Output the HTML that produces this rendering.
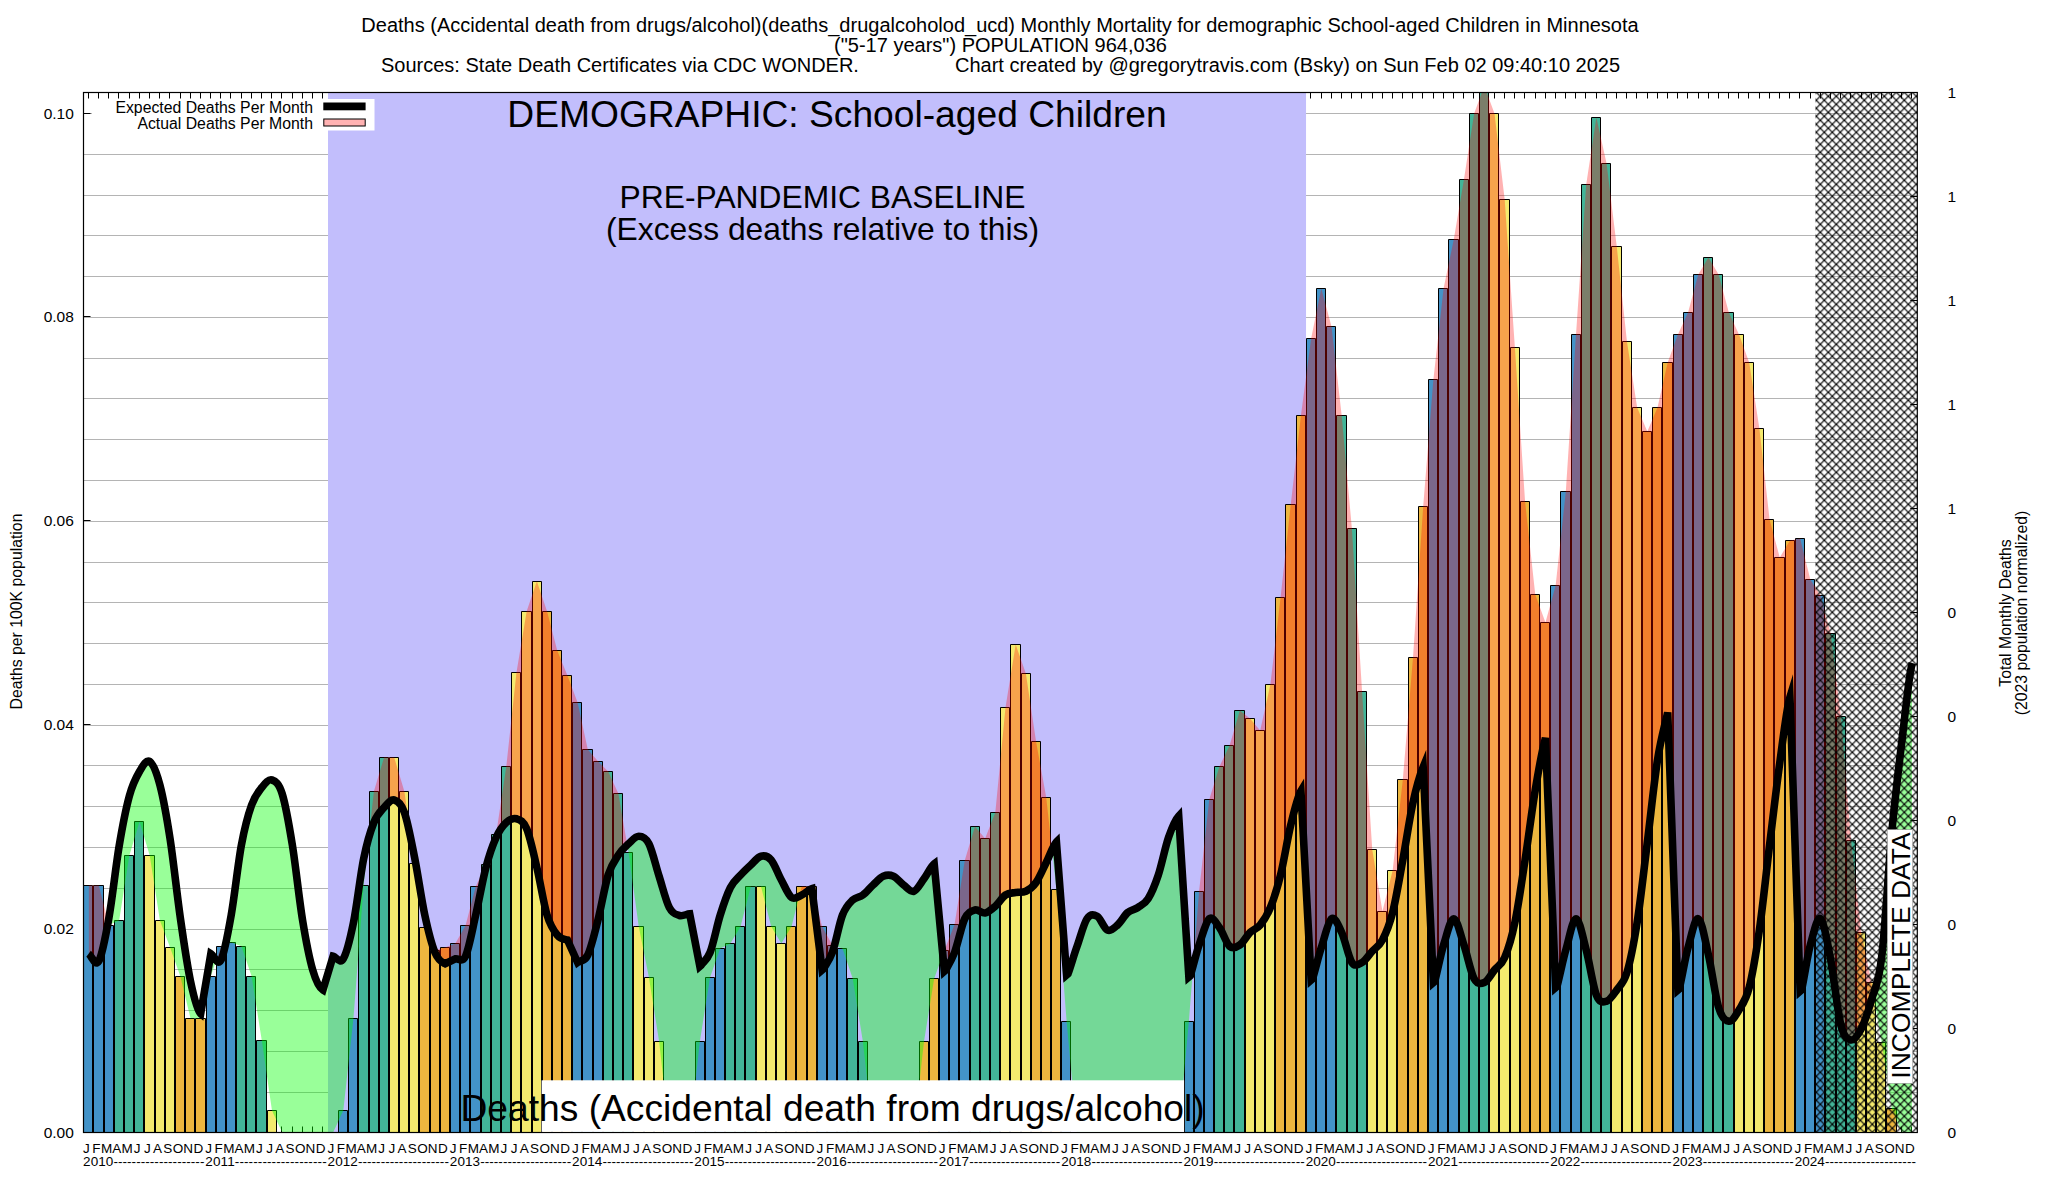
<!DOCTYPE html>
<html><head><meta charset="utf-8"><title>Monthly Mortality</title>
<style>html,body{margin:0;padding:0;background:#fff}svg{display:block}text{font-family:"Liberation Sans",Arial,Helvetica,sans-serif;fill:#000}</style></head><body>
<svg width="2048" height="1200" viewBox="0 0 2048 1200">
<defs>
<clipPath id="plot"><rect x="83.5" y="92.5" width="1833.8" height="1040"/></clipPath>
<clipPath id="aboveE"><path d="M88.59,953.75 C91.99,956.25 95.39,967.29 98.78,961.25 C102.18,955.21 105.57,936.71 108.97,917.5 C112.37,898.29 115.76,866.25 119.16,846 C122.55,825.75 125.95,808.42 129.34,796 C132.74,783.58 136.14,777.25 139.53,771.5 C142.93,765.75 146.32,759.25 149.72,761.5 C153.12,763.75 156.51,772.08 159.91,785 C163.3,797.92 166.7,816.92 170.1,839 C173.49,861.08 176.89,893.83 180.28,917.5 C183.68,941.17 187.08,964.96 190.47,981 C193.87,997.04 197.26,1011.08 200.66,1013.75 L210.85,953.75 C214.24,955.83 217.64,966.46 221.03,960 C224.43,953.54 227.83,934.17 231.22,915 C234.62,895.83 238.01,863.33 241.41,845 C244.81,826.67 248.2,814.58 251.6,805 C254.99,795.42 258.39,791.67 261.79,787.5 C265.18,783.33 268.58,778.96 271.97,780 C275.37,781.04 278.77,782.92 282.16,793.75 C285.56,804.58 288.95,823.96 292.35,845 C295.75,866.04 299.14,899.17 302.54,920 C305.93,940.83 309.33,958.33 312.73,970 C316.12,981.67 319.52,988 322.91,990 L333.1,956.25 C336.5,957.08 339.89,964.38 343.29,958.75 C346.68,953.12 350.08,939.17 353.48,922.5 C356.87,905.83 360.27,875.42 363.66,858.75 C367.06,842.08 370.46,831.04 373.85,822.5 C377.25,813.96 380.64,811.25 384.04,807.5 C387.44,803.75 390.83,799.17 394.23,800 C397.62,800.83 401.02,802.92 404.41,812.5 C407.81,822.08 411.21,840.42 414.6,857.5 C418,874.58 421.39,899.17 424.79,915 C428.19,930.83 431.58,944.38 434.98,952.5 C438.37,960.62 441.77,961.88 445.17,963.75 L455.35,958.75 C458.75,957.92 462.15,963.54 465.54,956.25 C468.94,948.96 472.33,929.79 475.73,915 C479.13,900.21 482.52,880.42 485.92,867.5 C489.31,854.58 492.71,845 496.1,837.5 C499.5,830 502.9,825.62 506.29,822.5 C509.69,819.38 513.08,817.71 516.48,818.75 C519.88,819.79 523.27,820.62 526.67,828.75 C530.06,836.88 533.46,853.12 536.86,867.5 C540.25,881.88 543.65,903.75 547.04,915 C550.44,926.25 553.84,930.83 557.23,935 C560.63,939.17 564.02,939.17 567.42,940 L577.61,962.5 C581,960 584.4,962.08 587.79,955 C591.19,947.92 594.59,933.33 597.98,920 C601.38,906.67 604.77,885.83 608.17,875 C611.57,864.17 614.96,860.21 618.36,855 C621.75,849.79 625.15,846.88 628.55,843.75 C631.94,840.62 635.34,836.25 638.73,836.25 C642.13,836.25 645.53,837.08 648.92,843.75 C652.32,850.42 655.71,865.62 659.11,876.25 C662.51,886.88 665.9,900.96 669.3,907.5 C672.69,914.04 676.09,914.46 679.48,915.5 C682.88,916.54 686.28,914.04 689.67,913.75 L699.86,966.25 L701.26,965.05 C704.19,961.1 707.12,959.87 710.05,952.5 C713.44,943.96 716.84,925.83 720.24,915 C723.63,904.17 727.03,894.17 730.42,887.5 C733.82,880.83 737.22,878.75 740.61,875 C744.01,871.25 747.4,868.12 750.8,865 C754.2,861.88 757.59,857.08 760.99,856.25 C764.38,855.42 767.78,856.04 771.17,860 C774.57,863.96 777.97,873.75 781.36,880 C784.76,886.25 788.15,895 791.55,897.5 C794.95,900 798.34,896.46 801.74,895 C805.13,893.54 808.53,889.79 811.93,888.75 L822.11,970 L823.51,968.8 C826.44,963.77 829.37,960.41 832.3,952.5 C835.7,943.33 839.09,923.75 842.49,915 C845.89,906.25 849.28,903.33 852.68,900 C856.07,896.67 859.47,897.5 862.86,895 C866.26,892.5 869.66,888.12 873.05,885 C876.45,881.88 879.84,877.71 883.24,876.25 C886.64,874.79 890.03,874.79 893.43,876.25 C896.82,877.71 900.22,882.5 903.62,885 C907.01,887.5 910.41,892.29 913.8,891.25 C917.2,890.21 920.6,883.33 923.99,878.75 C927.39,874.17 930.78,866.25 934.18,863.75 L944.37,971.25 L945.77,970.05 C948.7,964.66 951.63,960.05 954.55,952.5 C957.95,943.75 961.35,925.83 964.74,918.75 C968.14,911.67 971.53,910.96 974.93,910 C978.33,909.04 981.72,913.62 985.12,913 C988.51,912.38 991.91,909.25 995.31,906.25 C998.7,903.25 1002.1,897.29 1005.49,895 C1008.89,892.71 1012.29,893.12 1015.68,892.5 C1019.08,891.88 1022.47,892.92 1025.87,891.25 C1029.27,889.58 1032.66,887.29 1036.06,882.5 C1039.45,877.71 1042.85,869.25 1046.24,862.5 C1049.64,855.75 1053.04,845.42 1056.43,842 L1066.62,975 L1068.02,973.8 C1070.95,965.75 1073.88,955.09 1076.81,947 C1080.2,937.63 1083.6,923.88 1087,918.75 C1090.39,913.62 1093.79,914.38 1097.18,916.25 C1100.58,918.12 1103.98,928.54 1107.37,930 C1110.77,931.46 1114.16,927.92 1117.56,925 C1120.96,922.08 1124.35,915.42 1127.75,912.5 C1131.14,909.58 1134.54,909.79 1137.93,907.5 C1141.33,905.21 1144.73,904.17 1148.12,898.75 C1151.52,893.33 1154.91,885.21 1158.31,875 C1161.71,864.79 1165.1,847.33 1168.5,837.5 C1171.89,827.67 1175.29,819.58 1178.69,816 L1188.87,977 L1190.27,975.8 C1193.2,966.6 1196.13,953.37 1199.06,945 C1202.46,935.29 1205.85,921.67 1209.25,918.75 C1212.65,915.83 1216.04,922.92 1219.44,927.5 C1222.83,932.08 1226.23,943.33 1229.62,946.25 C1233.02,949.17 1236.42,947.29 1239.81,945 C1243.21,942.71 1246.6,935.83 1250,932.5 C1253.4,929.17 1256.79,929.17 1260.19,925 C1263.58,920.83 1266.98,915.83 1270.38,907.5 C1273.77,899.17 1277.17,888.75 1280.56,875 C1283.96,861.25 1287.36,839 1290.75,825 C1294.15,811 1297.54,796.67 1300.94,791 L1311.13,980 L1312.53,978.8 C1315.46,969.46 1318.39,956.31 1321.31,947.5 C1324.71,937.29 1328.11,921.25 1331.5,918.75 C1334.9,916.25 1338.29,925.21 1341.69,932.5 C1345.09,939.79 1348.48,957.5 1351.88,962.5 C1355.27,967.5 1358.67,964.38 1362.07,962.5 C1365.46,960.62 1368.86,955 1372.25,951.25 C1375.65,947.5 1379.05,946.46 1382.44,940 C1385.84,933.54 1389.23,925.83 1392.63,912.5 C1396.03,899.17 1399.42,878.33 1402.82,860 C1406.21,841.67 1409.61,818 1413,802.5 C1416.4,787 1419.8,775.27 1423.19,767 L1433.38,982.5 L1434.78,981.3 C1437.71,970.52 1440.64,954.16 1443.57,945 C1446.96,934.37 1450.36,918.75 1453.76,918.75 C1457.15,918.75 1460.55,935 1463.94,945 C1467.34,955 1470.74,972.5 1474.13,978.75 C1477.53,985 1480.92,983.96 1484.32,982.5 C1487.72,981.04 1491.11,974.17 1494.51,970 C1497.9,965.83 1501.3,965.42 1504.69,957.5 C1508.09,949.58 1511.49,938.75 1514.88,922.5 C1518.28,906.25 1521.67,882.08 1525.07,860 C1528.47,837.92 1531.86,810.33 1535.26,790 C1538.65,769.67 1542.05,750.6 1545.45,738 L1555.63,987.5 L1557.03,986.3 C1559.96,975.52 1562.89,959.88 1565.82,950 C1569.22,938.54 1572.61,918.75 1576.01,918.75 C1579.41,918.75 1582.8,937.29 1586.2,950 C1589.59,962.71 1592.99,986.46 1596.38,995 C1599.78,1003.54 1603.18,1002.08 1606.57,1001.25 C1609.97,1000.42 1613.36,994.79 1616.76,990 C1620.16,985.21 1623.55,983.75 1626.95,972.5 C1630.34,961.25 1633.74,944.17 1637.14,922.5 C1640.53,900.83 1643.93,869.58 1647.32,842.5 C1650.72,815.42 1654.12,781.67 1657.51,760 C1660.91,738.33 1664.3,727.47 1667.7,712.5 L1677.89,990 L1679.29,988.8 C1682.22,976.58 1685.15,957.74 1688.07,947.5 C1691.47,935.62 1694.87,917.5 1698.26,918.75 C1701.66,920 1705.05,940.21 1708.45,955 C1711.85,969.79 1715.24,996.46 1718.64,1007.5 C1722.03,1018.54 1725.43,1020.83 1728.83,1021.25 C1732.22,1021.67 1735.62,1015.62 1739.01,1010 C1742.41,1004.37 1745.81,1000.83 1749.2,987.5 C1752.6,974.17 1755.99,953.75 1759.39,930 C1762.79,906.25 1766.18,872.83 1769.58,845 C1772.97,817.17 1776.37,787.67 1779.76,763 C1783.16,738.33 1786.56,707.97 1789.95,697 L1800.14,991.25 L1801.54,990.05 C1804.47,976.75 1807.4,955.42 1810.33,945 C1813.72,932.92 1817.12,916.25 1820.52,918.75 C1823.91,921.25 1827.31,942.29 1830.7,960 C1834.1,977.71 1837.5,1011.67 1840.89,1025 C1844.29,1038.33 1847.68,1039.38 1851.08,1040 C1854.48,1040.62 1857.87,1035.42 1861.27,1028.75 C1864.66,1022.08 1868.06,1011.88 1871.45,1000 C1874.85,988.13 1878.25,985.5 1881.64,957.5 C1885.04,929.5 1888.43,868.25 1891.83,832 C1895.23,795.75 1898.62,768.17 1902.02,740 C1905.41,711.83 1908.81,675.83 1912.21,663 L1912.21,0 L88.59,0 Z"/></clipPath>
<clipPath id="aboveA"><path d="M88.59,885.5 L98.78,885.5 L108.97,925 L119.16,920.5 L129.34,855.5 L139.53,821.75 L149.72,855.5 L159.91,920.5 L170.1,947.5 L180.28,976.25 L190.47,1018.25 L200.66,1018.25 L210.85,976.25 L221.03,946.25 L231.22,942.5 L241.41,946.25 L251.6,976.25 L261.79,1040.5 L271.97,1110.5 L282.16,1132.5 L292.35,1132.5 L302.54,1132.5 L312.73,1132.5 L322.91,1132.5 L333.1,1132.5 L343.29,1110.5 L353.48,1018.25 L363.66,885.5 L373.85,791.5 L384.04,757.5 L394.23,757.5 L404.41,791.5 L414.6,863.5 L424.79,927.5 L434.98,950 L445.17,947.5 L455.35,943.5 L465.54,925.5 L475.73,886.5 L485.92,864.5 L496.1,834.5 L506.29,766.5 L516.48,672.5 L526.67,611.25 L536.86,581.25 L547.04,611.25 L557.23,650.5 L567.42,675.5 L577.61,702.5 L587.79,749.5 L597.98,761.25 L608.17,771.5 L618.36,793.5 L628.55,852.5 L638.73,926.5 L648.92,977.5 L659.11,1041.5 L669.3,1132.5 L679.48,1132.5 L689.67,1132.5 L699.86,1041.5 L710.05,977.5 L720.24,948.5 L730.42,943.5 L740.61,926.5 L750.8,886.5 L760.99,886.5 L771.17,926.5 L781.36,943.5 L791.55,926.5 L801.74,886.5 L811.93,886.5 L822.11,926.5 L832.3,945 L842.49,948.5 L852.68,978.5 L862.86,1041.5 L873.05,1132.5 L883.24,1132.5 L893.43,1132.5 L903.62,1132.5 L913.8,1132.5 L923.99,1041.5 L934.18,978.5 L944.37,950.5 L954.55,924.5 L964.74,860.5 L974.93,826.5 L985.12,838.5 L995.31,812.5 L1005.49,707.5 L1015.68,644.5 L1025.87,673.5 L1036.06,741.5 L1046.24,797.5 L1056.43,889.5 L1066.62,1021.5 L1076.81,1132.5 L1087,1132.5 L1097.18,1132.5 L1107.37,1132.5 L1117.56,1132.5 L1127.75,1132.5 L1137.93,1132.5 L1148.12,1132.5 L1158.31,1132.5 L1168.5,1132.5 L1178.69,1132.5 L1188.87,1021.5 L1199.06,891.5 L1209.25,799.5 L1219.44,766.5 L1229.62,745.5 L1239.81,710.5 L1250,718.5 L1260.19,730.5 L1270.38,684.5 L1280.56,597.5 L1290.75,504.5 L1300.94,415.5 L1311.13,338.5 L1321.31,288.5 L1331.5,326.5 L1341.69,415.5 L1351.88,528.5 L1362.07,691.5 L1372.25,849.5 L1382.44,911.25 L1392.63,870.5 L1402.82,779.5 L1413,657.5 L1423.19,506.5 L1433.38,379.5 L1443.57,288.5 L1453.76,239.5 L1463.94,179.5 L1474.13,113.5 L1484.32,86 L1494.51,113.5 L1504.69,199.5 L1514.88,347.5 L1525.07,501.5 L1535.26,594.5 L1545.45,622.5 L1555.63,585.5 L1565.82,491.5 L1576.01,334.5 L1586.2,184.5 L1596.38,117.5 L1606.57,163.5 L1616.76,246.5 L1626.95,341.5 L1637.14,407.5 L1647.32,431.5 L1657.51,407.5 L1667.7,362.5 L1677.89,334.5 L1688.07,312.5 L1698.26,274.5 L1708.45,257.5 L1718.64,274.5 L1728.83,312.5 L1739.01,334.5 L1749.2,362.5 L1759.39,428.5 L1769.58,519.5 L1779.76,557.5 L1789.95,540.5 L1800.14,538.5 L1810.33,579.5 L1820.52,595.5 L1830.7,633.5 L1840.89,716.5 L1851.08,840.5 L1861.27,932.5 L1871.45,982.5 L1881.64,1042.5 L1891.83,1108.75 L1902.02,1132.5 L1912.21,1132.5 L1912.21,0 L88.59,0 Z"/></clipPath>
<pattern id="hatch" width="8" height="8" patternUnits="userSpaceOnUse" patternTransform="translate(4.3,0.3)"><path d="M-1,-1 L9,9 M9,-1 L-1,9" stroke="#000" stroke-width="1.2" fill="none"/></pattern>
</defs>
<rect width="2048" height="1200" fill="#fff"/>
<path d="M83.5,1092.5 H1917.3 M83.5,1051.5 H1917.3 M83.5,1010.5 H1917.3 M83.5,969.5 H1917.3 M83.5,929.5 H1917.3 M83.5,888.5 H1917.3 M83.5,847.5 H1917.3 M83.5,806.5 H1917.3 M83.5,765.5 H1917.3 M83.5,725.5 H1917.3 M83.5,684.5 H1917.3 M83.5,643.5 H1917.3 M83.5,602.5 H1917.3 M83.5,562.5 H1917.3 M83.5,521.5 H1917.3 M83.5,480.5 H1917.3 M83.5,439.5 H1917.3 M83.5,398.5 H1917.3 M83.5,358.5 H1917.3 M83.5,317.5 H1917.3 M83.5,276.5 H1917.3 M83.5,235.5 H1917.3 M83.5,195.5 H1917.3 M83.5,154.5 H1917.3 M83.5,113.5 H1917.3" stroke="#b4b4b4" stroke-width="1" fill="none"/>
<path d="M88.5,92.5 v6 M88.5,1132.5 v-6 M98.5,92.5 v6 M98.5,1132.5 v-6 M108.5,92.5 v6 M108.5,1132.5 v-6 M118.5,92.5 v6 M118.5,1132.5 v-6 M129.5,92.5 v6 M129.5,1132.5 v-6 M139.5,92.5 v6 M139.5,1132.5 v-6 M149.5,92.5 v6 M149.5,1132.5 v-6 M159.5,92.5 v6 M159.5,1132.5 v-6 M169.5,92.5 v6 M169.5,1132.5 v-6 M180.5,92.5 v6 M180.5,1132.5 v-6 M190.5,92.5 v6 M190.5,1132.5 v-6 M200.5,92.5 v6 M200.5,1132.5 v-6 M210.5,92.5 v6 M210.5,1132.5 v-6 M220.5,92.5 v6 M220.5,1132.5 v-6 M230.5,92.5 v6 M230.5,1132.5 v-6 M241.5,92.5 v6 M241.5,1132.5 v-6 M251.5,92.5 v6 M251.5,1132.5 v-6 M261.5,92.5 v6 M261.5,1132.5 v-6 M271.5,92.5 v6 M271.5,1132.5 v-6 M281.5,92.5 v6 M281.5,1132.5 v-6 M292.5,92.5 v6 M292.5,1132.5 v-6 M302.5,92.5 v6 M302.5,1132.5 v-6 M312.5,92.5 v6 M312.5,1132.5 v-6 M322.5,92.5 v6 M322.5,1132.5 v-6 M332.5,92.5 v6 M332.5,1132.5 v-6 M343.5,92.5 v6 M343.5,1132.5 v-6 M353.5,92.5 v6 M353.5,1132.5 v-6 M363.5,92.5 v6 M363.5,1132.5 v-6 M373.5,92.5 v6 M373.5,1132.5 v-6 M383.5,92.5 v6 M383.5,1132.5 v-6 M393.5,92.5 v6 M393.5,1132.5 v-6 M404.5,92.5 v6 M404.5,1132.5 v-6 M414.5,92.5 v6 M414.5,1132.5 v-6 M424.5,92.5 v6 M424.5,1132.5 v-6 M434.5,92.5 v6 M434.5,1132.5 v-6 M444.5,92.5 v6 M444.5,1132.5 v-6 M455.5,92.5 v6 M455.5,1132.5 v-6 M465.5,92.5 v6 M465.5,1132.5 v-6 M475.5,92.5 v6 M475.5,1132.5 v-6 M485.5,92.5 v6 M485.5,1132.5 v-6 M495.5,92.5 v6 M495.5,1132.5 v-6 M506.5,92.5 v6 M506.5,1132.5 v-6 M516.5,92.5 v6 M516.5,1132.5 v-6 M526.5,92.5 v6 M526.5,1132.5 v-6 M536.5,92.5 v6 M536.5,1132.5 v-6 M546.5,92.5 v6 M546.5,1132.5 v-6 M556.5,92.5 v6 M556.5,1132.5 v-6 M567.5,92.5 v6 M567.5,1132.5 v-6 M577.5,92.5 v6 M577.5,1132.5 v-6 M587.5,92.5 v6 M587.5,1132.5 v-6 M597.5,92.5 v6 M597.5,1132.5 v-6 M607.5,92.5 v6 M607.5,1132.5 v-6 M618.5,92.5 v6 M618.5,1132.5 v-6 M628.5,92.5 v6 M628.5,1132.5 v-6 M638.5,92.5 v6 M638.5,1132.5 v-6 M648.5,92.5 v6 M648.5,1132.5 v-6 M658.5,92.5 v6 M658.5,1132.5 v-6 M669.5,92.5 v6 M669.5,1132.5 v-6 M679.5,92.5 v6 M679.5,1132.5 v-6 M689.5,92.5 v6 M689.5,1132.5 v-6 M699.5,92.5 v6 M699.5,1132.5 v-6 M709.5,92.5 v6 M709.5,1132.5 v-6 M719.5,92.5 v6 M719.5,1132.5 v-6 M730.5,92.5 v6 M730.5,1132.5 v-6 M740.5,92.5 v6 M740.5,1132.5 v-6 M750.5,92.5 v6 M750.5,1132.5 v-6 M760.5,92.5 v6 M760.5,1132.5 v-6 M770.5,92.5 v6 M770.5,1132.5 v-6 M781.5,92.5 v6 M781.5,1132.5 v-6 M791.5,92.5 v6 M791.5,1132.5 v-6 M801.5,92.5 v6 M801.5,1132.5 v-6 M811.5,92.5 v6 M811.5,1132.5 v-6 M821.5,92.5 v6 M821.5,1132.5 v-6 M832.5,92.5 v6 M832.5,1132.5 v-6 M842.5,92.5 v6 M842.5,1132.5 v-6 M852.5,92.5 v6 M852.5,1132.5 v-6 M862.5,92.5 v6 M862.5,1132.5 v-6 M872.5,92.5 v6 M872.5,1132.5 v-6 M882.5,92.5 v6 M882.5,1132.5 v-6 M893.5,92.5 v6 M893.5,1132.5 v-6 M903.5,92.5 v6 M903.5,1132.5 v-6 M913.5,92.5 v6 M913.5,1132.5 v-6 M923.5,92.5 v6 M923.5,1132.5 v-6 M933.5,92.5 v6 M933.5,1132.5 v-6 M944.5,92.5 v6 M944.5,1132.5 v-6 M954.5,92.5 v6 M954.5,1132.5 v-6 M964.5,92.5 v6 M964.5,1132.5 v-6 M974.5,92.5 v6 M974.5,1132.5 v-6 M984.5,92.5 v6 M984.5,1132.5 v-6 M995.5,92.5 v6 M995.5,1132.5 v-6 M1005.5,92.5 v6 M1005.5,1132.5 v-6 M1015.5,92.5 v6 M1015.5,1132.5 v-6 M1025.5,92.5 v6 M1025.5,1132.5 v-6 M1035.5,92.5 v6 M1035.5,1132.5 v-6 M1045.5,92.5 v6 M1045.5,1132.5 v-6 M1056.5,92.5 v6 M1056.5,1132.5 v-6 M1066.5,92.5 v6 M1066.5,1132.5 v-6 M1076.5,92.5 v6 M1076.5,1132.5 v-6 M1086.5,92.5 v6 M1086.5,1132.5 v-6 M1096.5,92.5 v6 M1096.5,1132.5 v-6 M1107.5,92.5 v6 M1107.5,1132.5 v-6 M1117.5,92.5 v6 M1117.5,1132.5 v-6 M1127.5,92.5 v6 M1127.5,1132.5 v-6 M1137.5,92.5 v6 M1137.5,1132.5 v-6 M1147.5,92.5 v6 M1147.5,1132.5 v-6 M1158.5,92.5 v6 M1158.5,1132.5 v-6 M1168.5,92.5 v6 M1168.5,1132.5 v-6 M1178.5,92.5 v6 M1178.5,1132.5 v-6 M1188.5,92.5 v6 M1188.5,1132.5 v-6 M1198.5,92.5 v6 M1198.5,1132.5 v-6 M1208.5,92.5 v6 M1208.5,1132.5 v-6 M1219.5,92.5 v6 M1219.5,1132.5 v-6 M1229.5,92.5 v6 M1229.5,1132.5 v-6 M1239.5,92.5 v6 M1239.5,1132.5 v-6 M1249.5,92.5 v6 M1249.5,1132.5 v-6 M1259.5,92.5 v6 M1259.5,1132.5 v-6 M1270.5,92.5 v6 M1270.5,1132.5 v-6 M1280.5,92.5 v6 M1280.5,1132.5 v-6 M1290.5,92.5 v6 M1290.5,1132.5 v-6 M1300.5,92.5 v6 M1300.5,1132.5 v-6 M1310.5,92.5 v6 M1310.5,1132.5 v-6 M1321.5,92.5 v6 M1321.5,1132.5 v-6 M1331.5,92.5 v6 M1331.5,1132.5 v-6 M1341.5,92.5 v6 M1341.5,1132.5 v-6 M1351.5,92.5 v6 M1351.5,1132.5 v-6 M1361.5,92.5 v6 M1361.5,1132.5 v-6 M1372.5,92.5 v6 M1372.5,1132.5 v-6 M1382.5,92.5 v6 M1382.5,1132.5 v-6 M1392.5,92.5 v6 M1392.5,1132.5 v-6 M1402.5,92.5 v6 M1402.5,1132.5 v-6 M1412.5,92.5 v6 M1412.5,1132.5 v-6 M1422.5,92.5 v6 M1422.5,1132.5 v-6 M1433.5,92.5 v6 M1433.5,1132.5 v-6 M1443.5,92.5 v6 M1443.5,1132.5 v-6 M1453.5,92.5 v6 M1453.5,1132.5 v-6 M1463.5,92.5 v6 M1463.5,1132.5 v-6 M1473.5,92.5 v6 M1473.5,1132.5 v-6 M1484.5,92.5 v6 M1484.5,1132.5 v-6 M1494.5,92.5 v6 M1494.5,1132.5 v-6 M1504.5,92.5 v6 M1504.5,1132.5 v-6 M1514.5,92.5 v6 M1514.5,1132.5 v-6 M1524.5,92.5 v6 M1524.5,1132.5 v-6 M1535.5,92.5 v6 M1535.5,1132.5 v-6 M1545.5,92.5 v6 M1545.5,1132.5 v-6 M1555.5,92.5 v6 M1555.5,1132.5 v-6 M1565.5,92.5 v6 M1565.5,1132.5 v-6 M1575.5,92.5 v6 M1575.5,1132.5 v-6 M1585.5,92.5 v6 M1585.5,1132.5 v-6 M1596.5,92.5 v6 M1596.5,1132.5 v-6 M1606.5,92.5 v6 M1606.5,1132.5 v-6 M1616.5,92.5 v6 M1616.5,1132.5 v-6 M1626.5,92.5 v6 M1626.5,1132.5 v-6 M1636.5,92.5 v6 M1636.5,1132.5 v-6 M1647.5,92.5 v6 M1647.5,1132.5 v-6 M1657.5,92.5 v6 M1657.5,1132.5 v-6 M1667.5,92.5 v6 M1667.5,1132.5 v-6 M1677.5,92.5 v6 M1677.5,1132.5 v-6 M1687.5,92.5 v6 M1687.5,1132.5 v-6 M1698.5,92.5 v6 M1698.5,1132.5 v-6 M1708.5,92.5 v6 M1708.5,1132.5 v-6 M1718.5,92.5 v6 M1718.5,1132.5 v-6 M1728.5,92.5 v6 M1728.5,1132.5 v-6 M1738.5,92.5 v6 M1738.5,1132.5 v-6 M1748.5,92.5 v6 M1748.5,1132.5 v-6 M1759.5,92.5 v6 M1759.5,1132.5 v-6 M1769.5,92.5 v6 M1769.5,1132.5 v-6 M1779.5,92.5 v6 M1779.5,1132.5 v-6 M1789.5,92.5 v6 M1789.5,1132.5 v-6 M1799.5,92.5 v6 M1799.5,1132.5 v-6 M1810.5,92.5 v6 M1810.5,1132.5 v-6 M1820.5,92.5 v6 M1820.5,1132.5 v-6 M1830.5,92.5 v6 M1830.5,1132.5 v-6 M1840.5,92.5 v6 M1840.5,1132.5 v-6 M1850.5,92.5 v6 M1850.5,1132.5 v-6 M1861.5,92.5 v6 M1861.5,1132.5 v-6 M1871.5,92.5 v6 M1871.5,1132.5 v-6 M1881.5,92.5 v6 M1881.5,1132.5 v-6 M1891.5,92.5 v6 M1891.5,1132.5 v-6 M1901.5,92.5 v6 M1901.5,1132.5 v-6 M1911.5,92.5 v6 M1911.5,1132.5 v-6 M83.5,1132.5 h7 M83.5,928.5 h7 M83.5,724.5 h7 M83.5,520.5 h7 M83.5,316.5 h7 M83.5,113.5 h7 M1917.3,1132.5 h-7 M1917.3,1028.5 h-7 M1917.3,924.5 h-7 M1917.3,820.5 h-7 M1917.3,716.5 h-7 M1917.3,612.5 h-7 M1917.3,508.5 h-7 M1917.3,404.5 h-7 M1917.3,300.5 h-7 M1917.3,196.5 h-7 M1917.3,92.5 h-7" stroke="#000" stroke-width="1" fill="none"/>
<rect x="328.01" y="92.5" width="978.03" height="1040" fill="#c2befc"/>
<g clip-path="url(#plot)">
<path d="M83.5,1134.5H92.5V885.5H83.5ZM206.5,1134.5H215.5V976.5H206.5ZM450.5,1134.5H459.5V943.5H450.5ZM572.5,1134.5H581.5V702.5H572.5ZM695.5,1134.5H704.5V1041.5H695.5ZM817.5,1134.5H826.5V926.5H817.5ZM939.5,1134.5H948.5V950.5H939.5ZM1061.5,1134.5H1070.5V1021.5H1061.5ZM1184.5,1134.5H1193.5V1021.5H1184.5ZM1306.5,1134.5H1315.5V338.5H1306.5ZM1428.5,1134.5H1437.5V379.5H1428.5ZM1550.5,1134.5H1559.5V585.5H1550.5ZM1673.5,1134.5H1682.5V334.5H1673.5ZM1795.5,1134.5H1804.5V538.5H1795.5Z" fill="#4393c8" stroke="#000" stroke-width="1"/>
<path d="M93.5,1134.5H103.5V885.5H93.5ZM216.5,1134.5H225.5V946.5H216.5ZM338.5,1134.5H347.5V1110.5H338.5ZM460.5,1134.5H469.5V925.5H460.5ZM582.5,1134.5H592.5V749.5H582.5ZM705.5,1134.5H714.5V977.5H705.5ZM827.5,1134.5H836.5V945.5H827.5ZM949.5,1134.5H958.5V924.5H949.5ZM1194.5,1134.5H1203.5V891.5H1194.5ZM1316.5,1134.5H1325.5V288.5H1316.5ZM1438.5,1134.5H1447.5V288.5H1438.5ZM1560.5,1134.5H1570.5V491.5H1560.5ZM1683.5,1134.5H1692.5V312.5H1683.5ZM1805.5,1134.5H1814.5V579.5H1805.5Z" fill="#4393c8" stroke="#000" stroke-width="1"/>
<path d="M104.5,1134.5H113.5V925.5H104.5ZM226.5,1134.5H235.5V942.5H226.5ZM348.5,1134.5H357.5V1018.5H348.5ZM470.5,1134.5H480.5V886.5H470.5ZM593.5,1134.5H602.5V761.5H593.5ZM715.5,1134.5H724.5V948.5H715.5ZM837.5,1134.5H846.5V948.5H837.5ZM959.5,1134.5H969.5V860.5H959.5ZM1204.5,1134.5H1213.5V799.5H1204.5ZM1326.5,1134.5H1335.5V326.5H1326.5ZM1448.5,1134.5H1458.5V239.5H1448.5ZM1571.5,1134.5H1580.5V334.5H1571.5ZM1693.5,1134.5H1702.5V274.5H1693.5ZM1815.5,1134.5H1824.5V595.5H1815.5Z" fill="#4393c8" stroke="#000" stroke-width="1"/>
<path d="M114.5,1134.5H123.5V920.5H114.5ZM236.5,1134.5H245.5V946.5H236.5ZM358.5,1134.5H368.5V885.5H358.5ZM481.5,1134.5H490.5V864.5H481.5ZM603.5,1134.5H612.5V771.5H603.5ZM725.5,1134.5H734.5V943.5H725.5ZM847.5,1134.5H857.5V978.5H847.5ZM970.5,1134.5H979.5V826.5H970.5ZM1214.5,1134.5H1223.5V766.5H1214.5ZM1336.5,1134.5H1346.5V415.5H1336.5ZM1459.5,1134.5H1468.5V179.5H1459.5ZM1581.5,1134.5H1590.5V184.5H1581.5ZM1703.5,1134.5H1712.5V257.5H1703.5ZM1825.5,1134.5H1835.5V633.5H1825.5Z" fill="#42b598" stroke="#000" stroke-width="1"/>
<path d="M124.5,1134.5H133.5V855.5H124.5ZM246.5,1134.5H255.5V976.5H246.5ZM369.5,1134.5H378.5V791.5H369.5ZM491.5,1134.5H500.5V834.5H491.5ZM613.5,1134.5H622.5V793.5H613.5ZM735.5,1134.5H744.5V926.5H735.5ZM858.5,1134.5H867.5V1041.5H858.5ZM980.5,1134.5H989.5V838.5H980.5ZM1224.5,1134.5H1233.5V745.5H1224.5ZM1347.5,1134.5H1356.5V528.5H1347.5ZM1469.5,1134.5H1478.5V113.5H1469.5ZM1591.5,1134.5H1600.5V117.5H1591.5ZM1713.5,1134.5H1722.5V274.5H1713.5ZM1836.5,1134.5H1845.5V716.5H1836.5Z" fill="#42b598" stroke="#000" stroke-width="1"/>
<path d="M134.5,1134.5H143.5V821.5H134.5ZM256.5,1134.5H266.5V1040.5H256.5ZM379.5,1134.5H388.5V757.5H379.5ZM501.5,1134.5H510.5V766.5H501.5ZM623.5,1134.5H632.5V852.5H623.5ZM745.5,1134.5H755.5V886.5H745.5ZM990.5,1134.5H999.5V812.5H990.5ZM1234.5,1134.5H1244.5V710.5H1234.5ZM1357.5,1134.5H1366.5V691.5H1357.5ZM1479.5,1134.5H1488.5V86.5H1479.5ZM1601.5,1134.5H1610.5V163.5H1601.5ZM1723.5,1134.5H1733.5V312.5H1723.5ZM1846.5,1134.5H1855.5V840.5H1846.5Z" fill="#42b598" stroke="#000" stroke-width="1"/>
<path d="M144.5,1134.5H154.5V855.5H144.5ZM267.5,1134.5H276.5V1110.5H267.5ZM389.5,1134.5H398.5V757.5H389.5ZM511.5,1134.5H520.5V672.5H511.5ZM633.5,1134.5H643.5V926.5H633.5ZM756.5,1134.5H765.5V886.5H756.5ZM1000.5,1134.5H1009.5V707.5H1000.5ZM1245.5,1134.5H1254.5V718.5H1245.5ZM1367.5,1134.5H1376.5V849.5H1367.5ZM1489.5,1134.5H1498.5V113.5H1489.5ZM1611.5,1134.5H1621.5V246.5H1611.5ZM1734.5,1134.5H1743.5V334.5H1734.5ZM1856.5,1134.5H1865.5V932.5H1856.5Z" fill="#f4ea6e" stroke="#000" stroke-width="1"/>
<path d="M155.5,1134.5H164.5V920.5H155.5ZM399.5,1134.5H408.5V791.5H399.5ZM521.5,1134.5H531.5V611.5H521.5ZM644.5,1134.5H653.5V977.5H644.5ZM766.5,1134.5H775.5V926.5H766.5ZM1010.5,1134.5H1020.5V644.5H1010.5ZM1255.5,1134.5H1264.5V730.5H1255.5ZM1377.5,1134.5H1386.5V911.5H1377.5ZM1499.5,1134.5H1509.5V199.5H1499.5ZM1622.5,1134.5H1631.5V341.5H1622.5ZM1744.5,1134.5H1753.5V362.5H1744.5ZM1866.5,1134.5H1875.5V982.5H1866.5Z" fill="#f4ea6e" stroke="#000" stroke-width="1"/>
<path d="M165.5,1134.5H174.5V947.5H165.5ZM409.5,1134.5H418.5V863.5H409.5ZM532.5,1134.5H541.5V581.5H532.5ZM654.5,1134.5H663.5V1041.5H654.5ZM776.5,1134.5H785.5V943.5H776.5ZM1021.5,1134.5H1030.5V673.5H1021.5ZM1265.5,1134.5H1274.5V684.5H1265.5ZM1387.5,1134.5H1396.5V870.5H1387.5ZM1510.5,1134.5H1519.5V347.5H1510.5ZM1632.5,1134.5H1641.5V407.5H1632.5ZM1754.5,1134.5H1763.5V428.5H1754.5ZM1876.5,1134.5H1885.5V1042.5H1876.5Z" fill="#f4ea6e" stroke="#000" stroke-width="1"/>
<path d="M175.5,1134.5H184.5V976.5H175.5ZM419.5,1134.5H429.5V927.5H419.5ZM542.5,1134.5H551.5V611.5H542.5ZM786.5,1134.5H795.5V926.5H786.5ZM1031.5,1134.5H1040.5V741.5H1031.5ZM1275.5,1134.5H1284.5V597.5H1275.5ZM1397.5,1134.5H1407.5V779.5H1397.5ZM1520.5,1134.5H1529.5V501.5H1520.5ZM1642.5,1134.5H1651.5V431.5H1642.5ZM1764.5,1134.5H1773.5V519.5H1764.5ZM1886.5,1134.5H1896.5V1108.5H1886.5Z" fill="#edb73f" stroke="#000" stroke-width="1"/>
<path d="M185.5,1134.5H194.5V1018.5H185.5ZM430.5,1134.5H439.5V950.5H430.5ZM552.5,1134.5H561.5V650.5H552.5ZM796.5,1134.5H806.5V886.5H796.5ZM919.5,1134.5H928.5V1041.5H919.5ZM1041.5,1134.5H1050.5V797.5H1041.5ZM1285.5,1134.5H1295.5V504.5H1285.5ZM1408.5,1134.5H1417.5V657.5H1408.5ZM1530.5,1134.5H1539.5V594.5H1530.5ZM1652.5,1134.5H1661.5V407.5H1652.5ZM1774.5,1134.5H1784.5V557.5H1774.5Z" fill="#edb73f" stroke="#000" stroke-width="1"/>
<path d="M195.5,1134.5H205.5V1018.5H195.5ZM440.5,1134.5H449.5V947.5H440.5ZM562.5,1134.5H571.5V675.5H562.5ZM807.5,1134.5H816.5V886.5H807.5ZM929.5,1134.5H938.5V978.5H929.5ZM1051.5,1134.5H1060.5V889.5H1051.5ZM1296.5,1134.5H1305.5V415.5H1296.5ZM1418.5,1134.5H1427.5V506.5H1418.5ZM1540.5,1134.5H1549.5V622.5H1540.5ZM1662.5,1134.5H1672.5V362.5H1662.5ZM1785.5,1134.5H1794.5V540.5H1785.5Z" fill="#edb73f" stroke="#000" stroke-width="1"/>
<path d="M88.59,885.5 L98.78,885.5 L108.97,925 L119.16,920.5 L129.34,855.5 L139.53,821.75 L149.72,855.5 L159.91,920.5 L170.1,947.5 L180.28,976.25 L190.47,1018.25 L200.66,1018.25 L210.85,976.25 L221.03,946.25 L231.22,942.5 L241.41,946.25 L251.6,976.25 L261.79,1040.5 L271.97,1110.5 L282.16,1132.5 L292.35,1132.5 L302.54,1132.5 L312.73,1132.5 L322.91,1132.5 L333.1,1132.5 L343.29,1110.5 L353.48,1018.25 L363.66,885.5 L373.85,791.5 L384.04,757.5 L394.23,757.5 L404.41,791.5 L414.6,863.5 L424.79,927.5 L434.98,950 L445.17,947.5 L455.35,943.5 L465.54,925.5 L475.73,886.5 L485.92,864.5 L496.1,834.5 L506.29,766.5 L516.48,672.5 L526.67,611.25 L536.86,581.25 L547.04,611.25 L557.23,650.5 L567.42,675.5 L577.61,702.5 L587.79,749.5 L597.98,761.25 L608.17,771.5 L618.36,793.5 L628.55,852.5 L638.73,926.5 L648.92,977.5 L659.11,1041.5 L669.3,1132.5 L679.48,1132.5 L689.67,1132.5 L699.86,1041.5 L710.05,977.5 L720.24,948.5 L730.42,943.5 L740.61,926.5 L750.8,886.5 L760.99,886.5 L771.17,926.5 L781.36,943.5 L791.55,926.5 L801.74,886.5 L811.93,886.5 L822.11,926.5 L832.3,945 L842.49,948.5 L852.68,978.5 L862.86,1041.5 L873.05,1132.5 L883.24,1132.5 L893.43,1132.5 L903.62,1132.5 L913.8,1132.5 L923.99,1041.5 L934.18,978.5 L944.37,950.5 L954.55,924.5 L964.74,860.5 L974.93,826.5 L985.12,838.5 L995.31,812.5 L1005.49,707.5 L1015.68,644.5 L1025.87,673.5 L1036.06,741.5 L1046.24,797.5 L1056.43,889.5 L1066.62,1021.5 L1076.81,1132.5 L1087,1132.5 L1097.18,1132.5 L1107.37,1132.5 L1117.56,1132.5 L1127.75,1132.5 L1137.93,1132.5 L1148.12,1132.5 L1158.31,1132.5 L1168.5,1132.5 L1178.69,1132.5 L1188.87,1021.5 L1199.06,891.5 L1209.25,799.5 L1219.44,766.5 L1229.62,745.5 L1239.81,710.5 L1250,718.5 L1260.19,730.5 L1270.38,684.5 L1280.56,597.5 L1290.75,504.5 L1300.94,415.5 L1311.13,338.5 L1321.31,288.5 L1331.5,326.5 L1341.69,415.5 L1351.88,528.5 L1362.07,691.5 L1372.25,849.5 L1382.44,911.25 L1392.63,870.5 L1402.82,779.5 L1413,657.5 L1423.19,506.5 L1433.38,379.5 L1443.57,288.5 L1453.76,239.5 L1463.94,179.5 L1474.13,113.5 L1484.32,86 L1494.51,113.5 L1504.69,199.5 L1514.88,347.5 L1525.07,501.5 L1535.26,594.5 L1545.45,622.5 L1555.63,585.5 L1565.82,491.5 L1576.01,334.5 L1586.2,184.5 L1596.38,117.5 L1606.57,163.5 L1616.76,246.5 L1626.95,341.5 L1637.14,407.5 L1647.32,431.5 L1657.51,407.5 L1667.7,362.5 L1677.89,334.5 L1688.07,312.5 L1698.26,274.5 L1708.45,257.5 L1718.64,274.5 L1728.83,312.5 L1739.01,334.5 L1749.2,362.5 L1759.39,428.5 L1769.58,519.5 L1779.76,557.5 L1789.95,540.5 L1800.14,538.5 L1810.33,579.5 L1820.52,595.5 L1830.7,633.5 L1840.89,716.5 L1851.08,840.5 L1861.27,932.5 L1871.45,982.5 L1881.64,1042.5 L1891.83,1108.75 L1902.02,1132.5 L1912.21,1132.5 L1912.21,1132.5 L88.59,1132.5 Z" fill="#ff0000" fill-opacity="0.3" clip-path="url(#aboveE)"/>
<path d="M88.59,953.75 C91.99,956.25 95.39,967.29 98.78,961.25 C102.18,955.21 105.57,936.71 108.97,917.5 C112.37,898.29 115.76,866.25 119.16,846 C122.55,825.75 125.95,808.42 129.34,796 C132.74,783.58 136.14,777.25 139.53,771.5 C142.93,765.75 146.32,759.25 149.72,761.5 C153.12,763.75 156.51,772.08 159.91,785 C163.3,797.92 166.7,816.92 170.1,839 C173.49,861.08 176.89,893.83 180.28,917.5 C183.68,941.17 187.08,964.96 190.47,981 C193.87,997.04 197.26,1011.08 200.66,1013.75 L210.85,953.75 C214.24,955.83 217.64,966.46 221.03,960 C224.43,953.54 227.83,934.17 231.22,915 C234.62,895.83 238.01,863.33 241.41,845 C244.81,826.67 248.2,814.58 251.6,805 C254.99,795.42 258.39,791.67 261.79,787.5 C265.18,783.33 268.58,778.96 271.97,780 C275.37,781.04 278.77,782.92 282.16,793.75 C285.56,804.58 288.95,823.96 292.35,845 C295.75,866.04 299.14,899.17 302.54,920 C305.93,940.83 309.33,958.33 312.73,970 C316.12,981.67 319.52,988 322.91,990 L333.1,956.25 C336.5,957.08 339.89,964.38 343.29,958.75 C346.68,953.12 350.08,939.17 353.48,922.5 C356.87,905.83 360.27,875.42 363.66,858.75 C367.06,842.08 370.46,831.04 373.85,822.5 C377.25,813.96 380.64,811.25 384.04,807.5 C387.44,803.75 390.83,799.17 394.23,800 C397.62,800.83 401.02,802.92 404.41,812.5 C407.81,822.08 411.21,840.42 414.6,857.5 C418,874.58 421.39,899.17 424.79,915 C428.19,930.83 431.58,944.38 434.98,952.5 C438.37,960.62 441.77,961.88 445.17,963.75 L455.35,958.75 C458.75,957.92 462.15,963.54 465.54,956.25 C468.94,948.96 472.33,929.79 475.73,915 C479.13,900.21 482.52,880.42 485.92,867.5 C489.31,854.58 492.71,845 496.1,837.5 C499.5,830 502.9,825.62 506.29,822.5 C509.69,819.38 513.08,817.71 516.48,818.75 C519.88,819.79 523.27,820.62 526.67,828.75 C530.06,836.88 533.46,853.12 536.86,867.5 C540.25,881.88 543.65,903.75 547.04,915 C550.44,926.25 553.84,930.83 557.23,935 C560.63,939.17 564.02,939.17 567.42,940 L577.61,962.5 C581,960 584.4,962.08 587.79,955 C591.19,947.92 594.59,933.33 597.98,920 C601.38,906.67 604.77,885.83 608.17,875 C611.57,864.17 614.96,860.21 618.36,855 C621.75,849.79 625.15,846.88 628.55,843.75 C631.94,840.62 635.34,836.25 638.73,836.25 C642.13,836.25 645.53,837.08 648.92,843.75 C652.32,850.42 655.71,865.62 659.11,876.25 C662.51,886.88 665.9,900.96 669.3,907.5 C672.69,914.04 676.09,914.46 679.48,915.5 C682.88,916.54 686.28,914.04 689.67,913.75 L699.86,966.25 L701.26,965.05 C704.19,961.1 707.12,959.87 710.05,952.5 C713.44,943.96 716.84,925.83 720.24,915 C723.63,904.17 727.03,894.17 730.42,887.5 C733.82,880.83 737.22,878.75 740.61,875 C744.01,871.25 747.4,868.12 750.8,865 C754.2,861.88 757.59,857.08 760.99,856.25 C764.38,855.42 767.78,856.04 771.17,860 C774.57,863.96 777.97,873.75 781.36,880 C784.76,886.25 788.15,895 791.55,897.5 C794.95,900 798.34,896.46 801.74,895 C805.13,893.54 808.53,889.79 811.93,888.75 L822.11,970 L823.51,968.8 C826.44,963.77 829.37,960.41 832.3,952.5 C835.7,943.33 839.09,923.75 842.49,915 C845.89,906.25 849.28,903.33 852.68,900 C856.07,896.67 859.47,897.5 862.86,895 C866.26,892.5 869.66,888.12 873.05,885 C876.45,881.88 879.84,877.71 883.24,876.25 C886.64,874.79 890.03,874.79 893.43,876.25 C896.82,877.71 900.22,882.5 903.62,885 C907.01,887.5 910.41,892.29 913.8,891.25 C917.2,890.21 920.6,883.33 923.99,878.75 C927.39,874.17 930.78,866.25 934.18,863.75 L944.37,971.25 L945.77,970.05 C948.7,964.66 951.63,960.05 954.55,952.5 C957.95,943.75 961.35,925.83 964.74,918.75 C968.14,911.67 971.53,910.96 974.93,910 C978.33,909.04 981.72,913.62 985.12,913 C988.51,912.38 991.91,909.25 995.31,906.25 C998.7,903.25 1002.1,897.29 1005.49,895 C1008.89,892.71 1012.29,893.12 1015.68,892.5 C1019.08,891.88 1022.47,892.92 1025.87,891.25 C1029.27,889.58 1032.66,887.29 1036.06,882.5 C1039.45,877.71 1042.85,869.25 1046.24,862.5 C1049.64,855.75 1053.04,845.42 1056.43,842 L1066.62,975 L1068.02,973.8 C1070.95,965.75 1073.88,955.09 1076.81,947 C1080.2,937.63 1083.6,923.88 1087,918.75 C1090.39,913.62 1093.79,914.38 1097.18,916.25 C1100.58,918.12 1103.98,928.54 1107.37,930 C1110.77,931.46 1114.16,927.92 1117.56,925 C1120.96,922.08 1124.35,915.42 1127.75,912.5 C1131.14,909.58 1134.54,909.79 1137.93,907.5 C1141.33,905.21 1144.73,904.17 1148.12,898.75 C1151.52,893.33 1154.91,885.21 1158.31,875 C1161.71,864.79 1165.1,847.33 1168.5,837.5 C1171.89,827.67 1175.29,819.58 1178.69,816 L1188.87,977 L1190.27,975.8 C1193.2,966.6 1196.13,953.37 1199.06,945 C1202.46,935.29 1205.85,921.67 1209.25,918.75 C1212.65,915.83 1216.04,922.92 1219.44,927.5 C1222.83,932.08 1226.23,943.33 1229.62,946.25 C1233.02,949.17 1236.42,947.29 1239.81,945 C1243.21,942.71 1246.6,935.83 1250,932.5 C1253.4,929.17 1256.79,929.17 1260.19,925 C1263.58,920.83 1266.98,915.83 1270.38,907.5 C1273.77,899.17 1277.17,888.75 1280.56,875 C1283.96,861.25 1287.36,839 1290.75,825 C1294.15,811 1297.54,796.67 1300.94,791 L1311.13,980 L1312.53,978.8 C1315.46,969.46 1318.39,956.31 1321.31,947.5 C1324.71,937.29 1328.11,921.25 1331.5,918.75 C1334.9,916.25 1338.29,925.21 1341.69,932.5 C1345.09,939.79 1348.48,957.5 1351.88,962.5 C1355.27,967.5 1358.67,964.38 1362.07,962.5 C1365.46,960.62 1368.86,955 1372.25,951.25 C1375.65,947.5 1379.05,946.46 1382.44,940 C1385.84,933.54 1389.23,925.83 1392.63,912.5 C1396.03,899.17 1399.42,878.33 1402.82,860 C1406.21,841.67 1409.61,818 1413,802.5 C1416.4,787 1419.8,775.27 1423.19,767 L1433.38,982.5 L1434.78,981.3 C1437.71,970.52 1440.64,954.16 1443.57,945 C1446.96,934.37 1450.36,918.75 1453.76,918.75 C1457.15,918.75 1460.55,935 1463.94,945 C1467.34,955 1470.74,972.5 1474.13,978.75 C1477.53,985 1480.92,983.96 1484.32,982.5 C1487.72,981.04 1491.11,974.17 1494.51,970 C1497.9,965.83 1501.3,965.42 1504.69,957.5 C1508.09,949.58 1511.49,938.75 1514.88,922.5 C1518.28,906.25 1521.67,882.08 1525.07,860 C1528.47,837.92 1531.86,810.33 1535.26,790 C1538.65,769.67 1542.05,750.6 1545.45,738 L1555.63,987.5 L1557.03,986.3 C1559.96,975.52 1562.89,959.88 1565.82,950 C1569.22,938.54 1572.61,918.75 1576.01,918.75 C1579.41,918.75 1582.8,937.29 1586.2,950 C1589.59,962.71 1592.99,986.46 1596.38,995 C1599.78,1003.54 1603.18,1002.08 1606.57,1001.25 C1609.97,1000.42 1613.36,994.79 1616.76,990 C1620.16,985.21 1623.55,983.75 1626.95,972.5 C1630.34,961.25 1633.74,944.17 1637.14,922.5 C1640.53,900.83 1643.93,869.58 1647.32,842.5 C1650.72,815.42 1654.12,781.67 1657.51,760 C1660.91,738.33 1664.3,727.47 1667.7,712.5 L1677.89,990 L1679.29,988.8 C1682.22,976.58 1685.15,957.74 1688.07,947.5 C1691.47,935.62 1694.87,917.5 1698.26,918.75 C1701.66,920 1705.05,940.21 1708.45,955 C1711.85,969.79 1715.24,996.46 1718.64,1007.5 C1722.03,1018.54 1725.43,1020.83 1728.83,1021.25 C1732.22,1021.67 1735.62,1015.62 1739.01,1010 C1742.41,1004.37 1745.81,1000.83 1749.2,987.5 C1752.6,974.17 1755.99,953.75 1759.39,930 C1762.79,906.25 1766.18,872.83 1769.58,845 C1772.97,817.17 1776.37,787.67 1779.76,763 C1783.16,738.33 1786.56,707.97 1789.95,697 L1800.14,991.25 L1801.54,990.05 C1804.47,976.75 1807.4,955.42 1810.33,945 C1813.72,932.92 1817.12,916.25 1820.52,918.75 C1823.91,921.25 1827.31,942.29 1830.7,960 C1834.1,977.71 1837.5,1011.67 1840.89,1025 C1844.29,1038.33 1847.68,1039.38 1851.08,1040 C1854.48,1040.62 1857.87,1035.42 1861.27,1028.75 C1864.66,1022.08 1868.06,1011.88 1871.45,1000 C1874.85,988.13 1878.25,985.5 1881.64,957.5 C1885.04,929.5 1888.43,868.25 1891.83,832 C1895.23,795.75 1898.62,768.17 1902.02,740 C1905.41,711.83 1908.81,675.83 1912.21,663 L1912.21,1132.5 L88.59,1132.5 Z" fill="#00ff00" fill-opacity="0.4" clip-path="url(#aboveA)"/>
<rect x="1815.42" y="92.5" width="101.88" height="1040" fill="url(#hatch)"/>
<path d="M88.59,953.75 C91.99,956.25 95.39,967.29 98.78,961.25 C102.18,955.21 105.57,936.71 108.97,917.5 C112.37,898.29 115.76,866.25 119.16,846 C122.55,825.75 125.95,808.42 129.34,796 C132.74,783.58 136.14,777.25 139.53,771.5 C142.93,765.75 146.32,759.25 149.72,761.5 C153.12,763.75 156.51,772.08 159.91,785 C163.3,797.92 166.7,816.92 170.1,839 C173.49,861.08 176.89,893.83 180.28,917.5 C183.68,941.17 187.08,964.96 190.47,981 C193.87,997.04 197.26,1011.08 200.66,1013.75 L210.85,953.75 C214.24,955.83 217.64,966.46 221.03,960 C224.43,953.54 227.83,934.17 231.22,915 C234.62,895.83 238.01,863.33 241.41,845 C244.81,826.67 248.2,814.58 251.6,805 C254.99,795.42 258.39,791.67 261.79,787.5 C265.18,783.33 268.58,778.96 271.97,780 C275.37,781.04 278.77,782.92 282.16,793.75 C285.56,804.58 288.95,823.96 292.35,845 C295.75,866.04 299.14,899.17 302.54,920 C305.93,940.83 309.33,958.33 312.73,970 C316.12,981.67 319.52,988 322.91,990 L333.1,956.25 C336.5,957.08 339.89,964.38 343.29,958.75 C346.68,953.12 350.08,939.17 353.48,922.5 C356.87,905.83 360.27,875.42 363.66,858.75 C367.06,842.08 370.46,831.04 373.85,822.5 C377.25,813.96 380.64,811.25 384.04,807.5 C387.44,803.75 390.83,799.17 394.23,800 C397.62,800.83 401.02,802.92 404.41,812.5 C407.81,822.08 411.21,840.42 414.6,857.5 C418,874.58 421.39,899.17 424.79,915 C428.19,930.83 431.58,944.38 434.98,952.5 C438.37,960.62 441.77,961.88 445.17,963.75 L455.35,958.75 C458.75,957.92 462.15,963.54 465.54,956.25 C468.94,948.96 472.33,929.79 475.73,915 C479.13,900.21 482.52,880.42 485.92,867.5 C489.31,854.58 492.71,845 496.1,837.5 C499.5,830 502.9,825.62 506.29,822.5 C509.69,819.38 513.08,817.71 516.48,818.75 C519.88,819.79 523.27,820.62 526.67,828.75 C530.06,836.88 533.46,853.12 536.86,867.5 C540.25,881.88 543.65,903.75 547.04,915 C550.44,926.25 553.84,930.83 557.23,935 C560.63,939.17 564.02,939.17 567.42,940 L577.61,962.5 C581,960 584.4,962.08 587.79,955 C591.19,947.92 594.59,933.33 597.98,920 C601.38,906.67 604.77,885.83 608.17,875 C611.57,864.17 614.96,860.21 618.36,855 C621.75,849.79 625.15,846.88 628.55,843.75 C631.94,840.62 635.34,836.25 638.73,836.25 C642.13,836.25 645.53,837.08 648.92,843.75 C652.32,850.42 655.71,865.62 659.11,876.25 C662.51,886.88 665.9,900.96 669.3,907.5 C672.69,914.04 676.09,914.46 679.48,915.5 C682.88,916.54 686.28,914.04 689.67,913.75 L699.86,966.25 L701.26,965.05 C704.19,961.1 707.12,959.87 710.05,952.5 C713.44,943.96 716.84,925.83 720.24,915 C723.63,904.17 727.03,894.17 730.42,887.5 C733.82,880.83 737.22,878.75 740.61,875 C744.01,871.25 747.4,868.12 750.8,865 C754.2,861.88 757.59,857.08 760.99,856.25 C764.38,855.42 767.78,856.04 771.17,860 C774.57,863.96 777.97,873.75 781.36,880 C784.76,886.25 788.15,895 791.55,897.5 C794.95,900 798.34,896.46 801.74,895 C805.13,893.54 808.53,889.79 811.93,888.75 L822.11,970 L823.51,968.8 C826.44,963.77 829.37,960.41 832.3,952.5 C835.7,943.33 839.09,923.75 842.49,915 C845.89,906.25 849.28,903.33 852.68,900 C856.07,896.67 859.47,897.5 862.86,895 C866.26,892.5 869.66,888.12 873.05,885 C876.45,881.88 879.84,877.71 883.24,876.25 C886.64,874.79 890.03,874.79 893.43,876.25 C896.82,877.71 900.22,882.5 903.62,885 C907.01,887.5 910.41,892.29 913.8,891.25 C917.2,890.21 920.6,883.33 923.99,878.75 C927.39,874.17 930.78,866.25 934.18,863.75 L944.37,971.25 L945.77,970.05 C948.7,964.66 951.63,960.05 954.55,952.5 C957.95,943.75 961.35,925.83 964.74,918.75 C968.14,911.67 971.53,910.96 974.93,910 C978.33,909.04 981.72,913.62 985.12,913 C988.51,912.38 991.91,909.25 995.31,906.25 C998.7,903.25 1002.1,897.29 1005.49,895 C1008.89,892.71 1012.29,893.12 1015.68,892.5 C1019.08,891.88 1022.47,892.92 1025.87,891.25 C1029.27,889.58 1032.66,887.29 1036.06,882.5 C1039.45,877.71 1042.85,869.25 1046.24,862.5 C1049.64,855.75 1053.04,845.42 1056.43,842 L1066.62,975 L1068.02,973.8 C1070.95,965.75 1073.88,955.09 1076.81,947 C1080.2,937.63 1083.6,923.88 1087,918.75 C1090.39,913.62 1093.79,914.38 1097.18,916.25 C1100.58,918.12 1103.98,928.54 1107.37,930 C1110.77,931.46 1114.16,927.92 1117.56,925 C1120.96,922.08 1124.35,915.42 1127.75,912.5 C1131.14,909.58 1134.54,909.79 1137.93,907.5 C1141.33,905.21 1144.73,904.17 1148.12,898.75 C1151.52,893.33 1154.91,885.21 1158.31,875 C1161.71,864.79 1165.1,847.33 1168.5,837.5 C1171.89,827.67 1175.29,819.58 1178.69,816 L1188.87,977 L1190.27,975.8 C1193.2,966.6 1196.13,953.37 1199.06,945 C1202.46,935.29 1205.85,921.67 1209.25,918.75 C1212.65,915.83 1216.04,922.92 1219.44,927.5 C1222.83,932.08 1226.23,943.33 1229.62,946.25 C1233.02,949.17 1236.42,947.29 1239.81,945 C1243.21,942.71 1246.6,935.83 1250,932.5 C1253.4,929.17 1256.79,929.17 1260.19,925 C1263.58,920.83 1266.98,915.83 1270.38,907.5 C1273.77,899.17 1277.17,888.75 1280.56,875 C1283.96,861.25 1287.36,839 1290.75,825 C1294.15,811 1297.54,796.67 1300.94,791 L1311.13,980 L1312.53,978.8 C1315.46,969.46 1318.39,956.31 1321.31,947.5 C1324.71,937.29 1328.11,921.25 1331.5,918.75 C1334.9,916.25 1338.29,925.21 1341.69,932.5 C1345.09,939.79 1348.48,957.5 1351.88,962.5 C1355.27,967.5 1358.67,964.38 1362.07,962.5 C1365.46,960.62 1368.86,955 1372.25,951.25 C1375.65,947.5 1379.05,946.46 1382.44,940 C1385.84,933.54 1389.23,925.83 1392.63,912.5 C1396.03,899.17 1399.42,878.33 1402.82,860 C1406.21,841.67 1409.61,818 1413,802.5 C1416.4,787 1419.8,775.27 1423.19,767 L1433.38,982.5 L1434.78,981.3 C1437.71,970.52 1440.64,954.16 1443.57,945 C1446.96,934.37 1450.36,918.75 1453.76,918.75 C1457.15,918.75 1460.55,935 1463.94,945 C1467.34,955 1470.74,972.5 1474.13,978.75 C1477.53,985 1480.92,983.96 1484.32,982.5 C1487.72,981.04 1491.11,974.17 1494.51,970 C1497.9,965.83 1501.3,965.42 1504.69,957.5 C1508.09,949.58 1511.49,938.75 1514.88,922.5 C1518.28,906.25 1521.67,882.08 1525.07,860 C1528.47,837.92 1531.86,810.33 1535.26,790 C1538.65,769.67 1542.05,750.6 1545.45,738 L1555.63,987.5 L1557.03,986.3 C1559.96,975.52 1562.89,959.88 1565.82,950 C1569.22,938.54 1572.61,918.75 1576.01,918.75 C1579.41,918.75 1582.8,937.29 1586.2,950 C1589.59,962.71 1592.99,986.46 1596.38,995 C1599.78,1003.54 1603.18,1002.08 1606.57,1001.25 C1609.97,1000.42 1613.36,994.79 1616.76,990 C1620.16,985.21 1623.55,983.75 1626.95,972.5 C1630.34,961.25 1633.74,944.17 1637.14,922.5 C1640.53,900.83 1643.93,869.58 1647.32,842.5 C1650.72,815.42 1654.12,781.67 1657.51,760 C1660.91,738.33 1664.3,727.47 1667.7,712.5 L1677.89,990 L1679.29,988.8 C1682.22,976.58 1685.15,957.74 1688.07,947.5 C1691.47,935.62 1694.87,917.5 1698.26,918.75 C1701.66,920 1705.05,940.21 1708.45,955 C1711.85,969.79 1715.24,996.46 1718.64,1007.5 C1722.03,1018.54 1725.43,1020.83 1728.83,1021.25 C1732.22,1021.67 1735.62,1015.62 1739.01,1010 C1742.41,1004.37 1745.81,1000.83 1749.2,987.5 C1752.6,974.17 1755.99,953.75 1759.39,930 C1762.79,906.25 1766.18,872.83 1769.58,845 C1772.97,817.17 1776.37,787.67 1779.76,763 C1783.16,738.33 1786.56,707.97 1789.95,697 L1800.14,991.25 L1801.54,990.05 C1804.47,976.75 1807.4,955.42 1810.33,945 C1813.72,932.92 1817.12,916.25 1820.52,918.75 C1823.91,921.25 1827.31,942.29 1830.7,960 C1834.1,977.71 1837.5,1011.67 1840.89,1025 C1844.29,1038.33 1847.68,1039.38 1851.08,1040 C1854.48,1040.62 1857.87,1035.42 1861.27,1028.75 C1864.66,1022.08 1868.06,1011.88 1871.45,1000 C1874.85,988.13 1878.25,985.5 1881.64,957.5 C1885.04,929.5 1888.43,868.25 1891.83,832 C1895.23,795.75 1898.62,768.17 1902.02,740 C1905.41,711.83 1908.81,675.83 1912.21,663" fill="none" stroke="#000" stroke-width="7.6" stroke-linejoin="miter" stroke-miterlimit="6.3" stroke-linecap="butt"/>
</g>
<rect x="83.5" y="92.5" width="1833.8" height="1040" fill="none" stroke="#000" stroke-width="1.2"/>
<rect x="92" y="99" width="282.5" height="31.5" fill="#fff"/>
<text x="313" y="113.2" font-size="15.8" text-anchor="end">Expected Deaths Per Month</text>
<text x="313" y="129.3" font-size="15.8" text-anchor="end">Actual Deaths Per Month</text>
<rect x="323.3" y="102.5" width="42.3" height="7.8" fill="#000"/>
<rect x="323.8" y="119" width="41.4" height="7" fill="#ffb2b2" stroke="#000" stroke-width="1"/>
<text x="837" y="126.5" font-size="37.2" text-anchor="middle">DEMOGRAPHIC: School-aged Children</text>
<text x="822.5" y="207.5" font-size="31.8" text-anchor="middle">PRE-PANDEMIC BASELINE</text>
<text x="822.5" y="239.5" font-size="31.8" text-anchor="middle">(Excess deaths relative to this)</text>
<rect x="541.6" y="1080.3" width="642.5" height="51.6" fill="#fff"/>
<text x="832.6" y="1120.5" font-size="37.2" text-anchor="middle">Deaths (Accidental death from drugs/alcohol)</text>
<rect x="1887.3" y="829.7" width="25.4" height="253.6" fill="#fff" stroke="#999" stroke-width="0.6"/>
<text transform="translate(1909.5,955.5) rotate(-90)" font-size="26.5" text-anchor="middle">INCOMPLETE DATA</text>
<text x="1000" y="32" font-size="20" text-anchor="middle">Deaths (Accidental death from drugs/alcohol)(deaths_drugalcoholod_ucd) Monthly Mortality for demographic School-aged Children in Minnesota</text>
<text x="1000.5" y="52" font-size="20" text-anchor="middle">("5-17 years") POPULATION 964,036</text>
<text x="381" y="72" font-size="20">Sources: State Death Certificates via CDC WONDER.</text>
<text x="955" y="72" font-size="20">Chart created by @gregorytravis.com (Bsky) on Sun Feb 02 09:40:10 2025</text>
<text x="73.8" y="1138" font-size="15.5" text-anchor="end">0.00</text>
<text x="73.8" y="934.1" font-size="15.5" text-anchor="end">0.02</text>
<text x="73.8" y="730.2" font-size="15.5" text-anchor="end">0.04</text>
<text x="73.8" y="526.3" font-size="15.5" text-anchor="end">0.06</text>
<text x="73.8" y="322.4" font-size="15.5" text-anchor="end">0.08</text>
<text x="73.8" y="118.5" font-size="15.5" text-anchor="end">0.10</text>
<text x="1951.7" y="1138" font-size="15.5" text-anchor="middle">0</text>
<text x="1951.7" y="1034" font-size="15.5" text-anchor="middle">0</text>
<text x="1951.7" y="930" font-size="15.5" text-anchor="middle">0</text>
<text x="1951.7" y="826" font-size="15.5" text-anchor="middle">0</text>
<text x="1951.7" y="722" font-size="15.5" text-anchor="middle">0</text>
<text x="1951.7" y="618" font-size="15.5" text-anchor="middle">0</text>
<text x="1951.7" y="514" font-size="15.5" text-anchor="middle">1</text>
<text x="1951.7" y="410" font-size="15.5" text-anchor="middle">1</text>
<text x="1951.7" y="306" font-size="15.5" text-anchor="middle">1</text>
<text x="1951.7" y="202" font-size="15.5" text-anchor="middle">1</text>
<text x="1951.7" y="98" font-size="15.5" text-anchor="middle">1</text>
<text transform="translate(21.5,611.5) rotate(-90)" font-size="15.8" text-anchor="middle">Deaths per 100K population</text>
<text transform="translate(2010.5,613) rotate(-90)" font-size="15.8" text-anchor="middle">Total Monthly Deaths</text>
<text transform="translate(2026.5,613) rotate(-90)" font-size="15.8" text-anchor="middle">(2023 population normalized)</text>
<g font-size="13.5" text-anchor="middle">
<text x="86.29" y="1152.5">J</text>
<text x="96.48" y="1152.5">F</text>
<text x="106.67" y="1152.5">M</text>
<text x="116.86" y="1152.5">A</text>
<text x="127.05" y="1152.5">M</text>
<text x="137.23" y="1152.5">J</text>
<text x="147.42" y="1152.5">J</text>
<text x="157.61" y="1152.5">A</text>
<text x="167.8" y="1152.5">S</text>
<text x="177.98" y="1152.5">O</text>
<text x="188.17" y="1152.5">N</text>
<text x="198.36" y="1152.5">D</text>
<text x="208.55" y="1152.5">J</text>
<text x="218.73" y="1152.5">F</text>
<text x="228.92" y="1152.5">M</text>
<text x="239.11" y="1152.5">A</text>
<text x="249.3" y="1152.5">M</text>
<text x="259.49" y="1152.5">J</text>
<text x="269.67" y="1152.5">J</text>
<text x="279.86" y="1152.5">A</text>
<text x="290.05" y="1152.5">S</text>
<text x="300.24" y="1152.5">O</text>
<text x="310.43" y="1152.5">N</text>
<text x="320.61" y="1152.5">D</text>
<text x="330.8" y="1152.5">J</text>
<text x="340.99" y="1152.5">F</text>
<text x="351.18" y="1152.5">M</text>
<text x="361.36" y="1152.5">A</text>
<text x="371.55" y="1152.5">M</text>
<text x="381.74" y="1152.5">J</text>
<text x="391.93" y="1152.5">J</text>
<text x="402.11" y="1152.5">A</text>
<text x="412.3" y="1152.5">S</text>
<text x="422.49" y="1152.5">O</text>
<text x="432.68" y="1152.5">N</text>
<text x="442.87" y="1152.5">D</text>
<text x="453.05" y="1152.5">J</text>
<text x="463.24" y="1152.5">F</text>
<text x="473.43" y="1152.5">M</text>
<text x="483.62" y="1152.5">A</text>
<text x="493.8" y="1152.5">M</text>
<text x="503.99" y="1152.5">J</text>
<text x="514.18" y="1152.5">J</text>
<text x="524.37" y="1152.5">A</text>
<text x="534.56" y="1152.5">S</text>
<text x="544.74" y="1152.5">O</text>
<text x="554.93" y="1152.5">N</text>
<text x="565.12" y="1152.5">D</text>
<text x="575.31" y="1152.5">J</text>
<text x="585.5" y="1152.5">F</text>
<text x="595.68" y="1152.5">M</text>
<text x="605.87" y="1152.5">A</text>
<text x="616.06" y="1152.5">M</text>
<text x="626.25" y="1152.5">J</text>
<text x="636.43" y="1152.5">J</text>
<text x="646.62" y="1152.5">A</text>
<text x="656.81" y="1152.5">S</text>
<text x="667" y="1152.5">O</text>
<text x="677.18" y="1152.5">N</text>
<text x="687.37" y="1152.5">D</text>
<text x="697.56" y="1152.5">J</text>
<text x="707.75" y="1152.5">F</text>
<text x="717.94" y="1152.5">M</text>
<text x="728.12" y="1152.5">A</text>
<text x="738.31" y="1152.5">M</text>
<text x="748.5" y="1152.5">J</text>
<text x="758.69" y="1152.5">J</text>
<text x="768.88" y="1152.5">A</text>
<text x="779.06" y="1152.5">S</text>
<text x="789.25" y="1152.5">O</text>
<text x="799.44" y="1152.5">N</text>
<text x="809.63" y="1152.5">D</text>
<text x="819.81" y="1152.5">J</text>
<text x="830" y="1152.5">F</text>
<text x="840.19" y="1152.5">M</text>
<text x="850.38" y="1152.5">A</text>
<text x="860.56" y="1152.5">M</text>
<text x="870.75" y="1152.5">J</text>
<text x="880.94" y="1152.5">J</text>
<text x="891.13" y="1152.5">A</text>
<text x="901.32" y="1152.5">S</text>
<text x="911.5" y="1152.5">O</text>
<text x="921.69" y="1152.5">N</text>
<text x="931.88" y="1152.5">D</text>
<text x="942.07" y="1152.5">J</text>
<text x="952.25" y="1152.5">F</text>
<text x="962.44" y="1152.5">M</text>
<text x="972.63" y="1152.5">A</text>
<text x="982.82" y="1152.5">M</text>
<text x="993.01" y="1152.5">J</text>
<text x="1003.19" y="1152.5">J</text>
<text x="1013.38" y="1152.5">A</text>
<text x="1023.57" y="1152.5">S</text>
<text x="1033.76" y="1152.5">O</text>
<text x="1043.94" y="1152.5">N</text>
<text x="1054.13" y="1152.5">D</text>
<text x="1064.32" y="1152.5">J</text>
<text x="1074.51" y="1152.5">F</text>
<text x="1084.7" y="1152.5">M</text>
<text x="1094.88" y="1152.5">A</text>
<text x="1105.07" y="1152.5">M</text>
<text x="1115.26" y="1152.5">J</text>
<text x="1125.45" y="1152.5">J</text>
<text x="1135.63" y="1152.5">A</text>
<text x="1145.82" y="1152.5">S</text>
<text x="1156.01" y="1152.5">O</text>
<text x="1166.2" y="1152.5">N</text>
<text x="1176.39" y="1152.5">D</text>
<text x="1186.57" y="1152.5">J</text>
<text x="1196.76" y="1152.5">F</text>
<text x="1206.95" y="1152.5">M</text>
<text x="1217.14" y="1152.5">A</text>
<text x="1227.33" y="1152.5">M</text>
<text x="1237.51" y="1152.5">J</text>
<text x="1247.7" y="1152.5">J</text>
<text x="1257.89" y="1152.5">A</text>
<text x="1268.08" y="1152.5">S</text>
<text x="1278.26" y="1152.5">O</text>
<text x="1288.45" y="1152.5">N</text>
<text x="1298.64" y="1152.5">D</text>
<text x="1308.83" y="1152.5">J</text>
<text x="1319.01" y="1152.5">F</text>
<text x="1329.2" y="1152.5">M</text>
<text x="1339.39" y="1152.5">A</text>
<text x="1349.58" y="1152.5">M</text>
<text x="1359.77" y="1152.5">J</text>
<text x="1369.95" y="1152.5">J</text>
<text x="1380.14" y="1152.5">A</text>
<text x="1390.33" y="1152.5">S</text>
<text x="1400.52" y="1152.5">O</text>
<text x="1410.7" y="1152.5">N</text>
<text x="1420.89" y="1152.5">D</text>
<text x="1431.08" y="1152.5">J</text>
<text x="1441.27" y="1152.5">F</text>
<text x="1451.46" y="1152.5">M</text>
<text x="1461.64" y="1152.5">A</text>
<text x="1471.83" y="1152.5">M</text>
<text x="1482.02" y="1152.5">J</text>
<text x="1492.21" y="1152.5">J</text>
<text x="1502.39" y="1152.5">A</text>
<text x="1512.58" y="1152.5">S</text>
<text x="1522.77" y="1152.5">O</text>
<text x="1532.96" y="1152.5">N</text>
<text x="1543.15" y="1152.5">D</text>
<text x="1553.33" y="1152.5">J</text>
<text x="1563.52" y="1152.5">F</text>
<text x="1573.71" y="1152.5">M</text>
<text x="1583.9" y="1152.5">A</text>
<text x="1594.08" y="1152.5">M</text>
<text x="1604.27" y="1152.5">J</text>
<text x="1614.46" y="1152.5">J</text>
<text x="1624.65" y="1152.5">A</text>
<text x="1634.84" y="1152.5">S</text>
<text x="1645.02" y="1152.5">O</text>
<text x="1655.21" y="1152.5">N</text>
<text x="1665.4" y="1152.5">D</text>
<text x="1675.59" y="1152.5">J</text>
<text x="1685.77" y="1152.5">F</text>
<text x="1695.96" y="1152.5">M</text>
<text x="1706.15" y="1152.5">A</text>
<text x="1716.34" y="1152.5">M</text>
<text x="1726.53" y="1152.5">J</text>
<text x="1736.71" y="1152.5">J</text>
<text x="1746.9" y="1152.5">A</text>
<text x="1757.09" y="1152.5">S</text>
<text x="1767.28" y="1152.5">O</text>
<text x="1777.46" y="1152.5">N</text>
<text x="1787.65" y="1152.5">D</text>
<text x="1797.84" y="1152.5">J</text>
<text x="1808.03" y="1152.5">F</text>
<text x="1818.22" y="1152.5">M</text>
<text x="1828.4" y="1152.5">A</text>
<text x="1838.59" y="1152.5">M</text>
<text x="1848.78" y="1152.5">J</text>
<text x="1858.97" y="1152.5">J</text>
<text x="1869.15" y="1152.5">A</text>
<text x="1879.34" y="1152.5">S</text>
<text x="1889.53" y="1152.5">O</text>
<text x="1899.72" y="1152.5">N</text>
<text x="1909.91" y="1152.5">D</text>
</g>
<g font-size="13.5">
<text x="83.1" y="1165.6" textLength="121.3" lengthAdjust="spacing">2010--------------------</text>
<text x="205.35" y="1165.6" textLength="121.3" lengthAdjust="spacing">2011--------------------</text>
<text x="327.61" y="1165.6" textLength="121.3" lengthAdjust="spacing">2012--------------------</text>
<text x="449.86" y="1165.6" textLength="121.3" lengthAdjust="spacing">2013--------------------</text>
<text x="572.11" y="1165.6" textLength="121.3" lengthAdjust="spacing">2014--------------------</text>
<text x="694.37" y="1165.6" textLength="121.3" lengthAdjust="spacing">2015--------------------</text>
<text x="816.62" y="1165.6" textLength="121.3" lengthAdjust="spacing">2016--------------------</text>
<text x="938.87" y="1165.6" textLength="121.3" lengthAdjust="spacing">2017--------------------</text>
<text x="1061.13" y="1165.6" textLength="121.3" lengthAdjust="spacing">2018--------------------</text>
<text x="1183.38" y="1165.6" textLength="121.3" lengthAdjust="spacing">2019--------------------</text>
<text x="1305.63" y="1165.6" textLength="121.3" lengthAdjust="spacing">2020--------------------</text>
<text x="1427.89" y="1165.6" textLength="121.3" lengthAdjust="spacing">2021--------------------</text>
<text x="1550.14" y="1165.6" textLength="121.3" lengthAdjust="spacing">2022--------------------</text>
<text x="1672.39" y="1165.6" textLength="121.3" lengthAdjust="spacing">2023--------------------</text>
<text x="1794.65" y="1165.6" textLength="121.3" lengthAdjust="spacing">2024--------------------</text>
</g>
</svg></body></html>
